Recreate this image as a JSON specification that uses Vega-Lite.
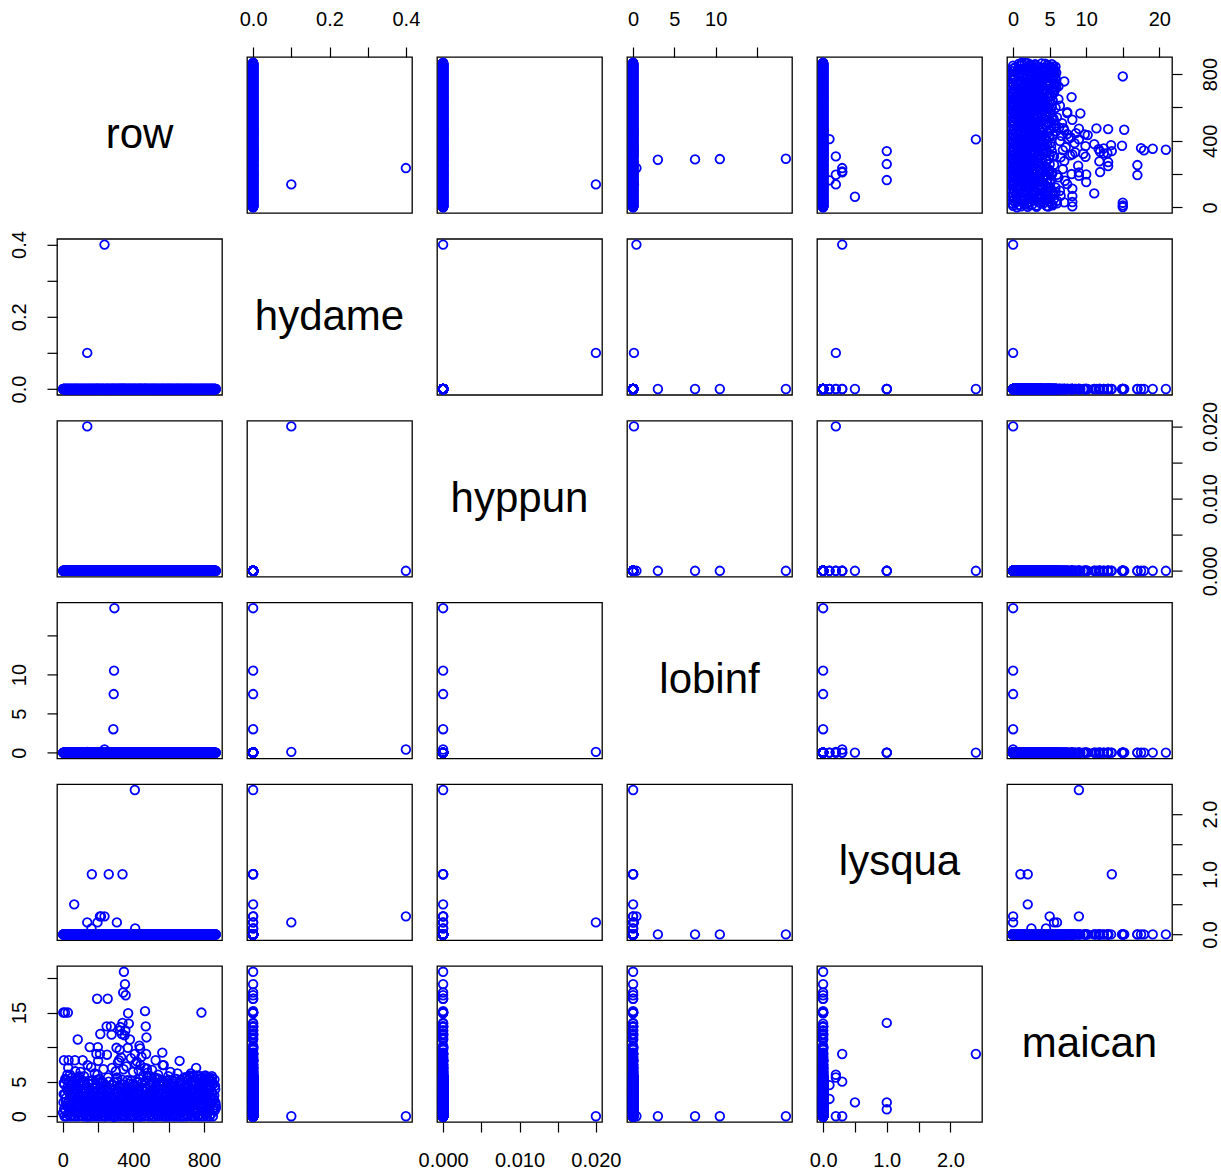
{
"$schema":"https://vega.github.io/schema/vega-lite/v6.json",
"background":"white",
"padding":{"left":8,"top":8,"right":0,"bottom":0},
"datasets":{"d":[
{"row":1,"hydame":0,"hyppun":0,"lobinf":0,"lysqua":0,"maican":0.5},{"row":3,"hydame":0,"hyppun":0,"lobinf":0,"lysqua":0,"maican":2.0},{"row":5,"hydame":0,"hyppun":0,"lobinf":0,"lysqua":0,"maican":4.8},{"row":7,"hydame":0,"hyppun":0,"lobinf":0,"lysqua":0,"maican":1.1},{"row":9,"hydame":0,"hyppun":0,"lobinf":0,"lysqua":0,"maican":0},{"row":11,"hydame":0,"hyppun":0,"lobinf":0,"lysqua":0,"maican":3.2},{"row":13,"hydame":0,"hyppun":0,"lobinf":0,"lysqua":0,"maican":5.4},{"row":15,"hydame":0,"hyppun":0,"lobinf":0,"lysqua":0,"maican":0.8},{"row":17,"hydame":0,"hyppun":0,"lobinf":0,"lysqua":0,"maican":2.6},{"row":19,"hydame":0,"hyppun":0,"lobinf":0,"lysqua":0,"maican":1.5},
{"row":21,"hydame":0,"hyppun":0,"lobinf":0,"lysqua":0,"maican":0},{"row":23,"hydame":0,"hyppun":0,"lobinf":0,"lysqua":0,"maican":4.1},{"row":25,"hydame":0,"hyppun":0,"lobinf":0,"lysqua":0,"maican":6.0},{"row":27,"hydame":0,"hyppun":0,"lobinf":0,"lysqua":0,"maican":1.9},{"row":29,"hydame":0,"hyppun":0,"lobinf":0,"lysqua":0,"maican":0.3},{"row":31,"hydame":0,"hyppun":0,"lobinf":0,"lysqua":0,"maican":3.6},{"row":33,"hydame":0,"hyppun":0,"lobinf":0,"lysqua":0,"maican":2.2},{"row":35,"hydame":0,"hyppun":0,"lobinf":0,"lysqua":0,"maican":5.0},{"row":37,"hydame":0,"hyppun":0,"lobinf":0,"lysqua":0,"maican":0.6},{"row":39,"hydame":0,"hyppun":0,"lobinf":0,"lysqua":0,"maican":1.3},
{"row":41,"hydame":0,"hyppun":0,"lobinf":0,"lysqua":0,"maican":2.9},{"row":43,"hydame":0,"hyppun":0,"lobinf":0,"lysqua":0,"maican":0},{"row":45,"hydame":0,"hyppun":0,"lobinf":0,"lysqua":0,"maican":4.5},{"row":47,"hydame":0,"hyppun":0,"lobinf":0,"lysqua":0,"maican":1.0},{"row":49,"hydame":0,"hyppun":0,"lobinf":0,"lysqua":0,"maican":3.0},{"row":51,"hydame":0,"hyppun":0,"lobinf":0,"lysqua":0,"maican":5.6},{"row":53,"hydame":0,"hyppun":0,"lobinf":0,"lysqua":0,"maican":0.2},{"row":55,"hydame":0,"hyppun":0,"lobinf":0,"lysqua":0,"maican":2.4},{"row":57,"hydame":0,"hyppun":0,"lobinf":0,"lysqua":0,"maican":1.7},{"row":59,"hydame":0,"hyppun":0,"lobinf":0,"lysqua":0,"maican":4.0},
{"row":61,"hydame":0,"hyppun":0,"lobinf":0,"lysqua":0,"maican":0.9},{"row":63,"hydame":0,"hyppun":0,"lobinf":0,"lysqua":0,"maican":3.4},{"row":65,"hydame":0,"hyppun":0,"lobinf":0,"lysqua":0,"maican":0},{"row":67,"hydame":0,"hyppun":0,"lobinf":0,"lysqua":0,"maican":2.1},{"row":69,"hydame":0,"hyppun":0,"lobinf":0,"lysqua":0,"maican":5.2},{"row":71,"hydame":0,"hyppun":0,"lobinf":0,"lysqua":0,"maican":1.4},{"row":73,"hydame":0,"hyppun":0,"lobinf":0,"lysqua":0,"maican":0.4},{"row":75,"hydame":0,"hyppun":0,"lobinf":0,"lysqua":0,"maican":3.8},{"row":77,"hydame":0,"hyppun":0,"lobinf":0,"lysqua":0,"maican":2.7},{"row":79,"hydame":0,"hyppun":0,"lobinf":0,"lysqua":0,"maican":0.7},
{"row":81,"hydame":0,"hyppun":0,"lobinf":0,"lysqua":0,"maican":4.3},{"row":83,"hydame":0,"hyppun":0,"lobinf":0,"lysqua":0,"maican":1.8},{"row":85,"hydame":0,"hyppun":0,"lobinf":0,"lysqua":0,"maican":0},{"row":87,"hydame":0,"hyppun":0,"lobinf":0,"lysqua":0,"maican":2.5},{"row":89,"hydame":0,"hyppun":0,"lobinf":0,"lysqua":0,"maican":3.1},{"row":91,"hydame":0,"hyppun":0,"lobinf":0,"lysqua":0,"maican":0.5},{"row":93,"hydame":0,"hyppun":0,"lobinf":0,"lysqua":0,"maican":5.8},{"row":95,"hydame":0,"hyppun":0,"lobinf":0,"lysqua":0,"maican":1.2},{"row":97,"hydame":0,"hyppun":0,"lobinf":0,"lysqua":0,"maican":2.0},{"row":99,"hydame":0,"hyppun":0,"lobinf":0,"lysqua":0,"maican":4.6},
{"row":101,"hydame":0,"hyppun":0,"lobinf":0,"lysqua":0,"maican":0.1},{"row":103,"hydame":0,"hyppun":0,"lobinf":0,"lysqua":0,"maican":3.5},{"row":105,"hydame":0,"hyppun":0,"lobinf":0,"lysqua":0,"maican":1.6},{"row":107,"hydame":0,"hyppun":0,"lobinf":0,"lysqua":0,"maican":0.8},{"row":109,"hydame":0,"hyppun":0,"lobinf":0,"lysqua":0,"maican":2.8},{"row":111,"hydame":0,"hyppun":0,"lobinf":0,"lysqua":0,"maican":4.9},{"row":113,"hydame":0,"hyppun":0,"lobinf":0,"lysqua":0,"maican":0},{"row":115,"hydame":0,"hyppun":0,"lobinf":0,"lysqua":0,"maican":1.1},{"row":117,"hydame":0,"hyppun":0,"lobinf":0,"lysqua":0,"maican":3.3},{"row":119,"hydame":0,"hyppun":0,"lobinf":0,"lysqua":0,"maican":2.3},
{"row":121,"hydame":0,"hyppun":0,"lobinf":0,"lysqua":0,"maican":0.4},{"row":123,"hydame":0,"hyppun":0,"lobinf":0,"lysqua":0,"maican":2.2},{"row":125,"hydame":0,"hyppun":0,"lobinf":0,"lysqua":0,"maican":1.0},{"row":127,"hydame":0,"hyppun":0,"lobinf":0,"lysqua":0,"maican":3.7},{"row":129,"hydame":0,"hyppun":0,"lobinf":0,"lysqua":0,"maican":0},{"row":131,"hydame":0,"hyppun":0,"lobinf":0,"lysqua":0,"maican":1.8},{"row":133,"hydame":0,"hyppun":0,"lobinf":0,"lysqua":0,"maican":4.4},{"row":135,"hydame":0,"hyppun":0,"lobinf":0,"lysqua":0,"maican":0.7},{"row":137,"hydame":0,"hyppun":0,"lobinf":0,"lysqua":0,"maican":2.6},{"row":139,"hydame":0,"hyppun":0,"lobinf":0,"lysqua":0,"maican":1.3},
{"row":141,"hydame":0,"hyppun":0,"lobinf":0,"lysqua":0,"maican":0.2},{"row":143,"hydame":0,"hyppun":0,"lobinf":0,"lysqua":0,"maican":3.0},{"row":145,"hydame":0,"hyppun":0,"lobinf":0,"lysqua":0,"maican":5.1},{"row":147,"hydame":0,"hyppun":0,"lobinf":0,"lysqua":0,"maican":1.5},{"row":149,"hydame":0,"hyppun":0,"lobinf":0,"lysqua":0,"maican":0},{"row":151,"hydame":0,"hyppun":0,"lobinf":0,"lysqua":0,"maican":2.4},{"row":153,"hydame":0,"hyppun":0,"lobinf":0,"lysqua":0,"maican":0.9},{"row":155,"hydame":0,"hyppun":0,"lobinf":0,"lysqua":0,"maican":3.9},{"row":157,"hydame":0,"hyppun":0,"lobinf":0,"lysqua":0,"maican":1.7},{"row":159,"hydame":0,"hyppun":0,"lobinf":0,"lysqua":0,"maican":0.5},
{"row":161,"hydame":0,"hyppun":0,"lobinf":0,"lysqua":0,"maican":2.9},{"row":163,"hydame":0,"hyppun":0,"lobinf":0,"lysqua":0,"maican":0},{"row":165,"hydame":0,"hyppun":0,"lobinf":0,"lysqua":0,"maican":1.2},{"row":167,"hydame":0,"hyppun":0,"lobinf":0,"lysqua":0,"maican":4.7},{"row":169,"hydame":0,"hyppun":0,"lobinf":0,"lysqua":0,"maican":0.6},{"row":171,"hydame":0,"hyppun":0,"lobinf":0,"lysqua":0,"maican":2.0},{"row":173,"hydame":0,"hyppun":0,"lobinf":0,"lysqua":0,"maican":3.4},{"row":175,"hydame":0,"hyppun":0,"lobinf":0,"lysqua":0,"maican":1.1},{"row":177,"hydame":0,"hyppun":0,"lobinf":0,"lysqua":0,"maican":0.3},{"row":179,"hydame":0,"hyppun":0,"lobinf":0,"lysqua":0,"maican":2.7},
{"row":181,"hydame":0,"hyppun":0,"lobinf":0,"lysqua":0,"maican":1.6},{"row":183,"hydame":0,"hyppun":0,"lobinf":0,"lysqua":0,"maican":0},{"row":185,"hydame":0,"hyppun":0,"lobinf":0,"lysqua":0,"maican":3.6},{"row":187,"hydame":0,"hyppun":0,"lobinf":0,"lysqua":0,"maican":0.8},{"row":189,"hydame":0,"hyppun":0,"lobinf":0,"lysqua":0,"maican":4.1},{"row":191,"hydame":0,"hyppun":0,"lobinf":0,"lysqua":0,"maican":1.9},{"row":193,"hydame":0,"hyppun":0,"lobinf":0,"lysqua":0,"maican":0.2},{"row":195,"hydame":0,"hyppun":0,"lobinf":0,"lysqua":0,"maican":2.3},{"row":197,"hydame":0,"hyppun":0,"lobinf":0,"lysqua":0,"maican":5.3},{"row":199,"hydame":0,"hyppun":0,"lobinf":0,"lysqua":0,"maican":1.0},
{"row":201,"hydame":0,"hyppun":0,"lobinf":0,"lysqua":0,"maican":0},{"row":203,"hydame":0,"hyppun":0,"lobinf":0,"lysqua":0,"maican":3.1},{"row":205,"hydame":0,"hyppun":0,"lobinf":0,"lysqua":0,"maican":1.4},{"row":207,"hydame":0,"hyppun":0,"lobinf":0,"lysqua":0,"maican":0.5},{"row":209,"hydame":0,"hyppun":0,"lobinf":0,"lysqua":0,"maican":2.5},{"row":211,"hydame":0,"hyppun":0,"lobinf":0,"lysqua":0,"maican":4.0},{"row":213,"hydame":0,"hyppun":0,"lobinf":0,"lysqua":0,"maican":0.9},{"row":215,"hydame":0,"hyppun":0,"lobinf":0,"lysqua":0,"maican":1.8},{"row":217,"hydame":0,"hyppun":0,"lobinf":0,"lysqua":0,"maican":0},{"row":219,"hydame":0,"hyppun":0,"lobinf":0,"lysqua":0,"maican":3.3},
{"row":221,"hydame":0,"hyppun":0,"lobinf":0,"lysqua":0,"maican":2.1},{"row":223,"hydame":0,"hyppun":0,"lobinf":0,"lysqua":0,"maican":0.6},{"row":225,"hydame":0,"hyppun":0,"lobinf":0,"lysqua":0,"maican":4.8},{"row":227,"hydame":0,"hyppun":0,"lobinf":0,"lysqua":0,"maican":1.2},{"row":229,"hydame":0,"hyppun":0,"lobinf":0,"lysqua":0,"maican":2.8},{"row":231,"hydame":0,"hyppun":0,"lobinf":0,"lysqua":0,"maican":0.1},{"row":233,"hydame":0,"hyppun":0,"lobinf":0,"lysqua":0,"maican":1.6},{"row":235,"hydame":0,"hyppun":0,"lobinf":0,"lysqua":0,"maican":3.8},{"row":237,"hydame":0,"hyppun":0,"lobinf":0,"lysqua":0,"maican":0.4},{"row":239,"hydame":0,"hyppun":0,"lobinf":0,"lysqua":0,"maican":2.2},
{"row":241,"hydame":0,"hyppun":0,"lobinf":0,"lysqua":0,"maican":1.3},{"row":243,"hydame":0,"hyppun":0,"lobinf":0,"lysqua":0,"maican":0},{"row":245,"hydame":0,"hyppun":0,"lobinf":0,"lysqua":0,"maican":2.6},{"row":247,"hydame":0,"hyppun":0,"lobinf":0,"lysqua":0,"maican":4.3},{"row":249,"hydame":0,"hyppun":0,"lobinf":0,"lysqua":0,"maican":0.7},{"row":251,"hydame":0,"hyppun":0,"lobinf":0,"lysqua":0,"maican":1.9},{"row":253,"hydame":0,"hyppun":0,"lobinf":0,"lysqua":0,"maican":3.5},{"row":255,"hydame":0,"hyppun":0,"lobinf":0,"lysqua":0,"maican":0.3},{"row":257,"hydame":0,"hyppun":0,"lobinf":0,"lysqua":0,"maican":2.0},{"row":259,"hydame":0,"hyppun":0,"lobinf":0,"lysqua":0,"maican":5.0},
{"row":261,"hydame":0,"hyppun":0,"lobinf":0,"lysqua":0,"maican":1.1},{"row":263,"hydame":0,"hyppun":0,"lobinf":0,"lysqua":0,"maican":0},{"row":265,"hydame":0,"hyppun":0,"lobinf":0,"lysqua":0,"maican":2.9},{"row":267,"hydame":0,"hyppun":0,"lobinf":0,"lysqua":0,"maican":1.5},{"row":269,"hydame":0,"hyppun":0,"lobinf":0,"lysqua":0,"maican":0.8},{"row":271,"hydame":0,"hyppun":0,"lobinf":0,"lysqua":0,"maican":3.9},{"row":273,"hydame":0,"hyppun":0,"lobinf":0,"lysqua":0,"maican":2.4},{"row":275,"hydame":0,"hyppun":0,"lobinf":0,"lysqua":0,"maican":0.2},{"row":277,"hydame":0,"hyppun":0,"lobinf":0,"lysqua":0,"maican":1.7},{"row":279,"hydame":0,"hyppun":0,"lobinf":0,"lysqua":0,"maican":4.5},
{"row":281,"hydame":0,"hyppun":0,"lobinf":0,"lysqua":0,"maican":0.6},{"row":283,"hydame":0,"hyppun":0,"lobinf":0,"lysqua":0,"maican":2.3},{"row":285,"hydame":0,"hyppun":0,"lobinf":0,"lysqua":0,"maican":0},{"row":287,"hydame":0,"hyppun":0,"lobinf":0,"lysqua":0,"maican":1.4},{"row":289,"hydame":0,"hyppun":0,"lobinf":0,"lysqua":0,"maican":3.2},{"row":291,"hydame":0,"hyppun":0,"lobinf":0,"lysqua":0,"maican":4.9},{"row":293,"hydame":0,"hyppun":0,"lobinf":0,"lysqua":0,"maican":0.9},{"row":295,"hydame":0,"hyppun":0,"lobinf":0,"lysqua":0,"maican":2.7},{"row":297,"hydame":0,"hyppun":0,"lobinf":0,"lysqua":0,"maican":1.0},{"row":299,"hydame":0,"hyppun":0,"lobinf":0,"lysqua":0,"maican":0},
{"row":301,"hydame":0,"hyppun":0,"lobinf":0,"lysqua":0,"maican":3.6},{"row":303,"hydame":0,"hyppun":0,"lobinf":0,"lysqua":0,"maican":1.8},{"row":305,"hydame":0,"hyppun":0,"lobinf":0,"lysqua":0,"maican":0.4},{"row":307,"hydame":0,"hyppun":0,"lobinf":0,"lysqua":0,"maican":2.1},{"row":309,"hydame":0,"hyppun":0,"lobinf":0,"lysqua":0,"maican":5.5},{"row":311,"hydame":0,"hyppun":0,"lobinf":0,"lysqua":0,"maican":1.2},{"row":313,"hydame":0,"hyppun":0,"lobinf":0,"lysqua":0,"maican":0},{"row":315,"hydame":0,"hyppun":0,"lobinf":0,"lysqua":0,"maican":2.9},{"row":317,"hydame":0,"hyppun":0,"lobinf":0,"lysqua":0,"maican":3.4},{"row":319,"hydame":0,"hyppun":0,"lobinf":0,"lysqua":0,"maican":0.7},
{"row":321,"hydame":0,"hyppun":0,"lobinf":0,"lysqua":0,"maican":1.9},{"row":323,"hydame":0,"hyppun":0,"lobinf":0,"lysqua":0,"maican":0.3},{"row":325,"hydame":0,"hyppun":0,"lobinf":0,"lysqua":0,"maican":4.2},{"row":327,"hydame":0,"hyppun":0,"lobinf":0,"lysqua":0,"maican":2.5},{"row":329,"hydame":0,"hyppun":0,"lobinf":0,"lysqua":0,"maican":0},{"row":331,"hydame":0,"hyppun":0,"lobinf":0,"lysqua":0,"maican":1.1},{"row":333,"hydame":0,"hyppun":0,"lobinf":0,"lysqua":0,"maican":3.0},{"row":335,"hydame":0,"hyppun":0,"lobinf":0,"lysqua":0,"maican":0.8},{"row":337,"hydame":0,"hyppun":0,"lobinf":0,"lysqua":0,"maican":2.2},{"row":339,"hydame":0,"hyppun":0,"lobinf":0,"lysqua":0,"maican":1.5},
{"row":341,"hydame":0,"hyppun":0,"lobinf":0,"lysqua":0,"maican":4.6},{"row":343,"hydame":0,"hyppun":0,"lobinf":0,"lysqua":0,"maican":0.1},{"row":345,"hydame":0,"hyppun":0,"lobinf":0,"lysqua":0,"maican":2.8},{"row":347,"hydame":0,"hyppun":0,"lobinf":0,"lysqua":0,"maican":1.3},{"row":349,"hydame":0,"hyppun":0,"lobinf":0,"lysqua":0,"maican":0},{"row":351,"hydame":0,"hyppun":0,"lobinf":0,"lysqua":0,"maican":3.7},{"row":353,"hydame":0,"hyppun":0,"lobinf":0,"lysqua":0,"maican":2.0},{"row":355,"hydame":0,"hyppun":0,"lobinf":0,"lysqua":0,"maican":0.6},{"row":357,"hydame":0,"hyppun":0,"lobinf":0,"lysqua":0,"maican":1.6},{"row":359,"hydame":0,"hyppun":0,"lobinf":0,"lysqua":0,"maican":3.1},
{"row":361,"hydame":0,"hyppun":0,"lobinf":0,"lysqua":0,"maican":0},{"row":363,"hydame":0,"hyppun":0,"lobinf":0,"lysqua":0,"maican":2.4},{"row":365,"hydame":0,"hyppun":0,"lobinf":0,"lysqua":0,"maican":1.0},{"row":367,"hydame":0,"hyppun":0,"lobinf":0,"lysqua":0,"maican":5.2},{"row":369,"hydame":0,"hyppun":0,"lobinf":0,"lysqua":0,"maican":0.5},{"row":371,"hydame":0,"hyppun":0,"lobinf":0,"lysqua":0,"maican":3.3},{"row":373,"hydame":0,"hyppun":0,"lobinf":0,"lysqua":0,"maican":1.7},{"row":375,"hydame":0,"hyppun":0,"lobinf":0,"lysqua":0,"maican":0.2},{"row":377,"hydame":0,"hyppun":0,"lobinf":0,"lysqua":0,"maican":2.6},{"row":379,"hydame":0,"hyppun":0,"lobinf":0,"lysqua":0,"maican":4.0},
{"row":381,"hydame":0,"hyppun":0,"lobinf":0,"lysqua":0,"maican":1.2},{"row":383,"hydame":0,"hyppun":0,"lobinf":0,"lysqua":0,"maican":0},{"row":385,"hydame":0,"hyppun":0,"lobinf":0,"lysqua":0,"maican":2.0},{"row":387,"hydame":0,"hyppun":0,"lobinf":0,"lysqua":0,"maican":3.8},{"row":389,"hydame":0,"hyppun":0,"lobinf":0,"lysqua":0,"maican":0.9},{"row":391,"hydame":0,"hyppun":0,"lobinf":0,"lysqua":0,"maican":1.4},{"row":393,"hydame":0,"hyppun":0,"lobinf":0,"lysqua":0,"maican":0},{"row":395,"hydame":0,"hyppun":0,"lobinf":0,"lysqua":0,"maican":2.9},{"row":397,"hydame":0,"hyppun":0,"lobinf":0,"lysqua":0,"maican":4.7},{"row":399,"hydame":0,"hyppun":0,"lobinf":0,"lysqua":0,"maican":0.7},
{"row":401,"hydame":0,"hyppun":0,"lobinf":0,"lysqua":0,"maican":1.5},{"row":403,"hydame":0,"hyppun":0,"lobinf":0,"lysqua":0,"maican":3.5},{"row":405,"hydame":0,"hyppun":0,"lobinf":0,"lysqua":0,"maican":0},{"row":407,"hydame":0,"hyppun":0,"lobinf":0,"lysqua":0,"maican":2.1},{"row":409,"hydame":0,"hyppun":0,"lobinf":0,"lysqua":0,"maican":0.8},{"row":411,"hydame":0,"hyppun":0,"lobinf":0,"lysqua":0,"maican":4.4},{"row":413,"hydame":0,"hyppun":0,"lobinf":0,"lysqua":0,"maican":1.1},{"row":415,"hydame":0,"hyppun":0,"lobinf":0,"lysqua":0,"maican":2.7},{"row":417,"hydame":0,"hyppun":0,"lobinf":0,"lysqua":0,"maican":0.3},{"row":419,"hydame":0,"hyppun":0,"lobinf":0,"lysqua":0,"maican":1.8},
{"row":421,"hydame":0,"hyppun":0,"lobinf":0,"lysqua":0,"maican":3.1},{"row":423,"hydame":0,"hyppun":0,"lobinf":0,"lysqua":0,"maican":0},{"row":425,"hydame":0,"hyppun":0,"lobinf":0,"lysqua":0,"maican":5.0},{"row":427,"hydame":0,"hyppun":0,"lobinf":0,"lysqua":0,"maican":1.3},{"row":429,"hydame":0,"hyppun":0,"lobinf":0,"lysqua":0,"maican":2.3},{"row":431,"hydame":0,"hyppun":0,"lobinf":0,"lysqua":0,"maican":0.6},{"row":433,"hydame":0,"hyppun":0,"lobinf":0,"lysqua":0,"maican":3.9},{"row":435,"hydame":0,"hyppun":0,"lobinf":0,"lysqua":0,"maican":1.0},{"row":437,"hydame":0,"hyppun":0,"lobinf":0,"lysqua":0,"maican":0},{"row":439,"hydame":0,"hyppun":0,"lobinf":0,"lysqua":0,"maican":2.5},
{"row":441,"hydame":0,"hyppun":0,"lobinf":0,"lysqua":0,"maican":0.9},{"row":443,"hydame":0,"hyppun":0,"lobinf":0,"lysqua":0,"maican":0},{"row":445,"hydame":0,"hyppun":0,"lobinf":0,"lysqua":0,"maican":3.2},{"row":447,"hydame":0,"hyppun":0,"lobinf":0,"lysqua":0,"maican":1.6},{"row":449,"hydame":0,"hyppun":0,"lobinf":0,"lysqua":0,"maican":4.8},{"row":451,"hydame":0,"hyppun":0,"lobinf":0,"lysqua":0,"maican":2.0},{"row":453,"hydame":0,"hyppun":0,"lobinf":0,"lysqua":0,"maican":0.4},{"row":455,"hydame":0,"hyppun":0,"lobinf":0,"lysqua":0,"maican":1.2},{"row":457,"hydame":0,"hyppun":0,"lobinf":0,"lysqua":0,"maican":2.8},{"row":459,"hydame":0,"hyppun":0,"lobinf":0,"lysqua":0,"maican":0},
{"row":461,"hydame":0,"hyppun":0,"lobinf":0,"lysqua":0,"maican":3.7},{"row":463,"hydame":0,"hyppun":0,"lobinf":0,"lysqua":0,"maican":1.9},{"row":465,"hydame":0,"hyppun":0,"lobinf":0,"lysqua":0,"maican":0.7},{"row":467,"hydame":0,"hyppun":0,"lobinf":0,"lysqua":0,"maican":4.1},{"row":469,"hydame":0,"hyppun":0,"lobinf":0,"lysqua":0,"maican":2.4},{"row":471,"hydame":0,"hyppun":0,"lobinf":0,"lysqua":0,"maican":0.1},{"row":473,"hydame":0,"hyppun":0,"lobinf":0,"lysqua":0,"maican":1.4},{"row":475,"hydame":0,"hyppun":0,"lobinf":0,"lysqua":0,"maican":3.0},{"row":477,"hydame":0,"hyppun":0,"lobinf":0,"lysqua":0,"maican":5.6},{"row":479,"hydame":0,"hyppun":0,"lobinf":0,"lysqua":0,"maican":1.1},
{"row":481,"hydame":0,"hyppun":0,"lobinf":0,"lysqua":0,"maican":2.2},{"row":483,"hydame":0,"hyppun":0,"lobinf":0,"lysqua":0,"maican":0.5},{"row":485,"hydame":0,"hyppun":0,"lobinf":0,"lysqua":0,"maican":1.7},{"row":487,"hydame":0,"hyppun":0,"lobinf":0,"lysqua":0,"maican":0},{"row":489,"hydame":0,"hyppun":0,"lobinf":0,"lysqua":0,"maican":3.4},{"row":491,"hydame":0,"hyppun":0,"lobinf":0,"lysqua":0,"maican":2.6},{"row":493,"hydame":0,"hyppun":0,"lobinf":0,"lysqua":0,"maican":1.0},{"row":495,"hydame":0,"hyppun":0,"lobinf":0,"lysqua":0,"maican":4.5},{"row":497,"hydame":0,"hyppun":0,"lobinf":0,"lysqua":0,"maican":0.2},{"row":499,"hydame":0,"hyppun":0,"lobinf":0,"lysqua":0,"maican":1.9},
{"row":501,"hydame":0,"hyppun":0,"lobinf":0,"lysqua":0,"maican":3.0},{"row":503,"hydame":0,"hyppun":0,"lobinf":0,"lysqua":0,"maican":0.8},{"row":505,"hydame":0,"hyppun":0,"lobinf":0,"lysqua":0,"maican":2.3},{"row":507,"hydame":0,"hyppun":0,"lobinf":0,"lysqua":0,"maican":0},{"row":509,"hydame":0,"hyppun":0,"lobinf":0,"lysqua":0,"maican":4.9},{"row":511,"hydame":0,"hyppun":0,"lobinf":0,"lysqua":0,"maican":1.5},{"row":513,"hydame":0,"hyppun":0,"lobinf":0,"lysqua":0,"maican":0.6},{"row":515,"hydame":0,"hyppun":0,"lobinf":0,"lysqua":0,"maican":2.9},{"row":517,"hydame":0,"hyppun":0,"lobinf":0,"lysqua":0,"maican":1.2},{"row":519,"hydame":0,"hyppun":0,"lobinf":0,"lysqua":0,"maican":3.6},
{"row":521,"hydame":0,"hyppun":0,"lobinf":0,"lysqua":0,"maican":0},{"row":523,"hydame":0,"hyppun":0,"lobinf":0,"lysqua":0,"maican":1.4},{"row":525,"hydame":0,"hyppun":0,"lobinf":0,"lysqua":0,"maican":2.5},{"row":527,"hydame":0,"hyppun":0,"lobinf":0,"lysqua":0,"maican":4.2},{"row":529,"hydame":0,"hyppun":0,"lobinf":0,"lysqua":0,"maican":0.9},{"row":531,"hydame":0,"hyppun":0,"lobinf":0,"lysqua":0,"maican":3.1},{"row":533,"hydame":0,"hyppun":0,"lobinf":0,"lysqua":0,"maican":0.3},{"row":535,"hydame":0,"hyppun":0,"lobinf":0,"lysqua":0,"maican":1.8},{"row":537,"hydame":0,"hyppun":0,"lobinf":0,"lysqua":0,"maican":5.3},{"row":539,"hydame":0,"hyppun":0,"lobinf":0,"lysqua":0,"maican":2.0},
{"row":541,"hydame":0,"hyppun":0,"lobinf":0,"lysqua":0,"maican":0},{"row":543,"hydame":0,"hyppun":0,"lobinf":0,"lysqua":0,"maican":1.1},{"row":545,"hydame":0,"hyppun":0,"lobinf":0,"lysqua":0,"maican":3.8},{"row":547,"hydame":0,"hyppun":0,"lobinf":0,"lysqua":0,"maican":0.6},{"row":549,"hydame":0,"hyppun":0,"lobinf":0,"lysqua":0,"maican":2.7},{"row":551,"hydame":0,"hyppun":0,"lobinf":0,"lysqua":0,"maican":1.6},{"row":553,"hydame":0,"hyppun":0,"lobinf":0,"lysqua":0,"maican":4.4},{"row":555,"hydame":0,"hyppun":0,"lobinf":0,"lysqua":0,"maican":0.2},{"row":557,"hydame":0,"hyppun":0,"lobinf":0,"lysqua":0,"maican":2.1},{"row":559,"hydame":0,"hyppun":0,"lobinf":0,"lysqua":0,"maican":1.0},
{"row":561,"hydame":0,"hyppun":0,"lobinf":0,"lysqua":0,"maican":3.3},{"row":563,"hydame":0,"hyppun":0,"lobinf":0,"lysqua":0,"maican":0.7},{"row":565,"hydame":0,"hyppun":0,"lobinf":0,"lysqua":0,"maican":0},{"row":567,"hydame":0,"hyppun":0,"lobinf":0,"lysqua":0,"maican":2.4},{"row":569,"hydame":0,"hyppun":0,"lobinf":0,"lysqua":0,"maican":1.3},{"row":571,"hydame":0,"hyppun":0,"lobinf":0,"lysqua":0,"maican":4.6},{"row":573,"hydame":0,"hyppun":0,"lobinf":0,"lysqua":0,"maican":1.9},{"row":575,"hydame":0,"hyppun":0,"lobinf":0,"lysqua":0,"maican":0.4},{"row":577,"hydame":0,"hyppun":0,"lobinf":0,"lysqua":0,"maican":2.8},{"row":579,"hydame":0,"hyppun":0,"lobinf":0,"lysqua":0,"maican":0},
{"row":581,"hydame":0,"hyppun":0,"lobinf":0,"lysqua":0,"maican":3.5},{"row":583,"hydame":0,"hyppun":0,"lobinf":0,"lysqua":0,"maican":1.5},{"row":585,"hydame":0,"hyppun":0,"lobinf":0,"lysqua":0,"maican":0.9},{"row":587,"hydame":0,"hyppun":0,"lobinf":0,"lysqua":0,"maican":5.1},{"row":589,"hydame":0,"hyppun":0,"lobinf":0,"lysqua":0,"maican":2.2},{"row":591,"hydame":0,"hyppun":0,"lobinf":0,"lysqua":0,"maican":0},{"row":593,"hydame":0,"hyppun":0,"lobinf":0,"lysqua":0,"maican":1.7},{"row":595,"hydame":0,"hyppun":0,"lobinf":0,"lysqua":0,"maican":3.9},{"row":597,"hydame":0,"hyppun":0,"lobinf":0,"lysqua":0,"maican":0.5},{"row":599,"hydame":0,"hyppun":0,"lobinf":0,"lysqua":0,"maican":2.6},
{"row":601,"hydame":0,"hyppun":0,"lobinf":0,"lysqua":0,"maican":1.2},{"row":603,"hydame":0,"hyppun":0,"lobinf":0,"lysqua":0,"maican":0},{"row":605,"hydame":0,"hyppun":0,"lobinf":0,"lysqua":0,"maican":2.9},{"row":607,"hydame":0,"hyppun":0,"lobinf":0,"lysqua":0,"maican":0.8},{"row":609,"hydame":0,"hyppun":0,"lobinf":0,"lysqua":0,"maican":4.0},{"row":611,"hydame":0,"hyppun":0,"lobinf":0,"lysqua":0,"maican":1.6},{"row":613,"hydame":0,"hyppun":0,"lobinf":0,"lysqua":0,"maican":3.2},{"row":615,"hydame":0,"hyppun":0,"lobinf":0,"lysqua":0,"maican":0.1},{"row":617,"hydame":0,"hyppun":0,"lobinf":0,"lysqua":0,"maican":2.3},{"row":619,"hydame":0,"hyppun":0,"lobinf":0,"lysqua":0,"maican":1.0},
{"row":621,"hydame":0,"hyppun":0,"lobinf":0,"lysqua":0,"maican":0},{"row":623,"hydame":0,"hyppun":0,"lobinf":0,"lysqua":0,"maican":4.7},{"row":625,"hydame":0,"hyppun":0,"lobinf":0,"lysqua":0,"maican":2.0},{"row":627,"hydame":0,"hyppun":0,"lobinf":0,"lysqua":0,"maican":0.6},{"row":629,"hydame":0,"hyppun":0,"lobinf":0,"lysqua":0,"maican":3.6},{"row":631,"hydame":0,"hyppun":0,"lobinf":0,"lysqua":0,"maican":1.4},{"row":633,"hydame":0,"hyppun":0,"lobinf":0,"lysqua":0,"maican":0},{"row":635,"hydame":0,"hyppun":0,"lobinf":0,"lysqua":0,"maican":2.5},{"row":637,"hydame":0,"hyppun":0,"lobinf":0,"lysqua":0,"maican":5.4},{"row":639,"hydame":0,"hyppun":0,"lobinf":0,"lysqua":0,"maican":0.9},
{"row":641,"hydame":0,"hyppun":0,"lobinf":0,"lysqua":0,"maican":2.7},{"row":643,"hydame":0,"hyppun":0,"lobinf":0,"lysqua":0,"maican":1.1},{"row":645,"hydame":0,"hyppun":0,"lobinf":0,"lysqua":0,"maican":0.3},{"row":647,"hydame":0,"hyppun":0,"lobinf":0,"lysqua":0,"maican":3.4},{"row":649,"hydame":0,"hyppun":0,"lobinf":0,"lysqua":0,"maican":0},{"row":651,"hydame":0,"hyppun":0,"lobinf":0,"lysqua":0,"maican":1.8},{"row":653,"hydame":0,"hyppun":0,"lobinf":0,"lysqua":0,"maican":4.3},{"row":655,"hydame":0,"hyppun":0,"lobinf":0,"lysqua":0,"maican":2.1},{"row":657,"hydame":0,"hyppun":0,"lobinf":0,"lysqua":0,"maican":0.7},{"row":659,"hydame":0,"hyppun":0,"lobinf":0,"lysqua":0,"maican":1.5},
{"row":661,"hydame":0,"hyppun":0,"lobinf":0,"lysqua":0,"maican":3.0},{"row":663,"hydame":0,"hyppun":0,"lobinf":0,"lysqua":0,"maican":0},{"row":665,"hydame":0,"hyppun":0,"lobinf":0,"lysqua":0,"maican":2.4},{"row":667,"hydame":0,"hyppun":0,"lobinf":0,"lysqua":0,"maican":4.9},{"row":669,"hydame":0,"hyppun":0,"lobinf":0,"lysqua":0,"maican":1.3},{"row":671,"hydame":0,"hyppun":0,"lobinf":0,"lysqua":0,"maican":0.5},{"row":673,"hydame":0,"hyppun":0,"lobinf":0,"lysqua":0,"maican":3.7},{"row":675,"hydame":0,"hyppun":0,"lobinf":0,"lysqua":0,"maican":1.9},{"row":677,"hydame":0,"hyppun":0,"lobinf":0,"lysqua":0,"maican":0},{"row":679,"hydame":0,"hyppun":0,"lobinf":0,"lysqua":0,"maican":2.2},
{"row":681,"hydame":0,"hyppun":0,"lobinf":0,"lysqua":0,"maican":0.8},{"row":683,"hydame":0,"hyppun":0,"lobinf":0,"lysqua":0,"maican":3.1},{"row":685,"hydame":0,"hyppun":0,"lobinf":0,"lysqua":0,"maican":1.6},{"row":687,"hydame":0,"hyppun":0,"lobinf":0,"lysqua":0,"maican":0},{"row":689,"hydame":0,"hyppun":0,"lobinf":0,"lysqua":0,"maican":4.1},{"row":691,"hydame":0,"hyppun":0,"lobinf":0,"lysqua":0,"maican":2.6},{"row":693,"hydame":0,"hyppun":0,"lobinf":0,"lysqua":0,"maican":1.0},{"row":695,"hydame":0,"hyppun":0,"lobinf":0,"lysqua":0,"maican":0.4},{"row":697,"hydame":0,"hyppun":0,"lobinf":0,"lysqua":0,"maican":3.5},{"row":699,"hydame":0,"hyppun":0,"lobinf":0,"lysqua":0,"maican":1.7},
{"row":701,"hydame":0,"hyppun":0,"lobinf":0,"lysqua":0,"maican":1.4},{"row":703,"hydame":0,"hyppun":0,"lobinf":0,"lysqua":0,"maican":3.6},{"row":705,"hydame":0,"hyppun":0,"lobinf":0,"lysqua":0,"maican":0},{"row":707,"hydame":0,"hyppun":0,"lobinf":0,"lysqua":0,"maican":2.5},{"row":709,"hydame":0,"hyppun":0,"lobinf":0,"lysqua":0,"maican":5.2},{"row":711,"hydame":0,"hyppun":0,"lobinf":0,"lysqua":0,"maican":1.0},{"row":713,"hydame":0,"hyppun":0,"lobinf":0,"lysqua":0,"maican":4.3},{"row":715,"hydame":0,"hyppun":0,"lobinf":0,"lysqua":0,"maican":0.6},{"row":717,"hydame":0,"hyppun":0,"lobinf":0,"lysqua":0,"maican":2.9},{"row":719,"hydame":0,"hyppun":0,"lobinf":0,"lysqua":0,"maican":1.8},
{"row":721,"hydame":0,"hyppun":0,"lobinf":0,"lysqua":0,"maican":5.7},{"row":723,"hydame":0,"hyppun":0,"lobinf":0,"lysqua":0,"maican":0.3},{"row":725,"hydame":0,"hyppun":0,"lobinf":0,"lysqua":0,"maican":3.3},{"row":727,"hydame":0,"hyppun":0,"lobinf":0,"lysqua":0,"maican":2.1},{"row":729,"hydame":0,"hyppun":0,"lobinf":0,"lysqua":0,"maican":0},{"row":731,"hydame":0,"hyppun":0,"lobinf":0,"lysqua":0,"maican":4.6},{"row":733,"hydame":0,"hyppun":0,"lobinf":0,"lysqua":0,"maican":1.5},{"row":735,"hydame":0,"hyppun":0,"lobinf":0,"lysqua":0,"maican":3.9},{"row":737,"hydame":0,"hyppun":0,"lobinf":0,"lysqua":0,"maican":0.8},{"row":739,"hydame":0,"hyppun":0,"lobinf":0,"lysqua":0,"maican":2.7},
{"row":741,"hydame":0,"hyppun":0,"lobinf":0,"lysqua":0,"maican":5.0},{"row":743,"hydame":0,"hyppun":0,"lobinf":0,"lysqua":0,"maican":1.2},{"row":745,"hydame":0,"hyppun":0,"lobinf":0,"lysqua":0,"maican":0},{"row":747,"hydame":0,"hyppun":0,"lobinf":0,"lysqua":0,"maican":3.4},{"row":749,"hydame":0,"hyppun":0,"lobinf":0,"lysqua":0,"maican":2.2},{"row":751,"hydame":0,"hyppun":0,"lobinf":0,"lysqua":0,"maican":4.8},{"row":753,"hydame":0,"hyppun":0,"lobinf":0,"lysqua":0,"maican":0.5},{"row":755,"hydame":0,"hyppun":0,"lobinf":0,"lysqua":0,"maican":1.9},{"row":757,"hydame":0,"hyppun":0,"lobinf":0,"lysqua":0,"maican":3.0},{"row":759,"hydame":0,"hyppun":0,"lobinf":0,"lysqua":0,"maican":5.9},
{"row":761,"hydame":0,"hyppun":0,"lobinf":0,"lysqua":0,"maican":0.9},{"row":763,"hydame":0,"hyppun":0,"lobinf":0,"lysqua":0,"maican":2.6},{"row":765,"hydame":0,"hyppun":0,"lobinf":0,"lysqua":0,"maican":0},{"row":767,"hydame":0,"hyppun":0,"lobinf":0,"lysqua":0,"maican":4.1},{"row":769,"hydame":0,"hyppun":0,"lobinf":0,"lysqua":0,"maican":1.6},{"row":771,"hydame":0,"hyppun":0,"lobinf":0,"lysqua":0,"maican":3.7},{"row":773,"hydame":0,"hyppun":0,"lobinf":0,"lysqua":0,"maican":0.2},{"row":775,"hydame":0,"hyppun":0,"lobinf":0,"lysqua":0,"maican":2.3},{"row":777,"hydame":0,"hyppun":0,"lobinf":0,"lysqua":0,"maican":5.4},{"row":779,"hydame":0,"hyppun":0,"lobinf":0,"lysqua":0,"maican":1.1},
{"row":781,"hydame":0,"hyppun":0,"lobinf":0,"lysqua":0,"maican":3.1},{"row":783,"hydame":0,"hyppun":0,"lobinf":0,"lysqua":0,"maican":0},{"row":785,"hydame":0,"hyppun":0,"lobinf":0,"lysqua":0,"maican":4.5},{"row":787,"hydame":0,"hyppun":0,"lobinf":0,"lysqua":0,"maican":2.0},{"row":789,"hydame":0,"hyppun":0,"lobinf":0,"lysqua":0,"maican":1.3},{"row":791,"hydame":0,"hyppun":0,"lobinf":0,"lysqua":0,"maican":5.6},{"row":793,"hydame":0,"hyppun":0,"lobinf":0,"lysqua":0,"maican":0.7},{"row":795,"hydame":0,"hyppun":0,"lobinf":0,"lysqua":0,"maican":2.8},{"row":797,"hydame":0,"hyppun":0,"lobinf":0,"lysqua":0,"maican":3.8},{"row":799,"hydame":0,"hyppun":0,"lobinf":0,"lysqua":0,"maican":0},
{"row":801,"hydame":0,"hyppun":0,"lobinf":0,"lysqua":0,"maican":1.7},{"row":803,"hydame":0,"hyppun":0,"lobinf":0,"lysqua":0,"maican":4.9},{"row":805,"hydame":0,"hyppun":0,"lobinf":0,"lysqua":0,"maican":2.4},{"row":807,"hydame":0,"hyppun":0,"lobinf":0,"lysqua":0,"maican":0.4},{"row":809,"hydame":0,"hyppun":0,"lobinf":0,"lysqua":0,"maican":3.5},{"row":811,"hydame":0,"hyppun":0,"lobinf":0,"lysqua":0,"maican":1.0},{"row":813,"hydame":0,"hyppun":0,"lobinf":0,"lysqua":0,"maican":5.1},{"row":815,"hydame":0,"hyppun":0,"lobinf":0,"lysqua":0,"maican":2.9},{"row":817,"hydame":0,"hyppun":0,"lobinf":0,"lysqua":0,"maican":0},{"row":819,"hydame":0,"hyppun":0,"lobinf":0,"lysqua":0,"maican":1.5},
{"row":821,"hydame":0,"hyppun":0,"lobinf":0,"lysqua":0,"maican":4.2},{"row":823,"hydame":0,"hyppun":0,"lobinf":0,"lysqua":0,"maican":2.1},{"row":825,"hydame":0,"hyppun":0,"lobinf":0,"lysqua":0,"maican":0.6},{"row":827,"hydame":0,"hyppun":0,"lobinf":0,"lysqua":0,"maican":3.3},{"row":829,"hydame":0,"hyppun":0,"lobinf":0,"lysqua":0,"maican":5.3},{"row":831,"hydame":0,"hyppun":0,"lobinf":0,"lysqua":0,"maican":1.4},{"row":833,"hydame":0,"hyppun":0,"lobinf":0,"lysqua":0,"maican":0},{"row":835,"hydame":0,"hyppun":0,"lobinf":0,"lysqua":0,"maican":2.7},{"row":837,"hydame":0,"hyppun":0,"lobinf":0,"lysqua":0,"maican":4.0},{"row":839,"hydame":0,"hyppun":0,"lobinf":0,"lysqua":0,"maican":1.8},
{"row":841,"hydame":0,"hyppun":0,"lobinf":0,"lysqua":0,"maican":0.3},{"row":843,"hydame":0,"hyppun":0,"lobinf":0,"lysqua":0,"maican":3.6},{"row":845,"hydame":0,"hyppun":0,"lobinf":0,"lysqua":0,"maican":5.8},{"row":847,"hydame":0,"hyppun":0,"lobinf":0,"lysqua":0,"maican":2.2},{"row":849,"hydame":0,"hyppun":0,"lobinf":0,"lysqua":0,"maican":1.0},{"row":851,"hydame":0,"hyppun":0,"lobinf":0,"lysqua":0,"maican":0},{"row":853,"hydame":0,"hyppun":0,"lobinf":0,"lysqua":0,"maican":4.7},{"row":855,"hydame":0,"hyppun":0,"lobinf":0,"lysqua":0,"maican":2.5},{"row":857,"hydame":0,"hyppun":0,"lobinf":0,"lysqua":0,"maican":1.2},{"row":859,"hydame":0,"hyppun":0,"lobinf":0,"lysqua":0,"maican":3.0},
{"row":861,"hydame":0,"hyppun":0,"lobinf":0,"lysqua":0,"maican":0.8},{"row":863,"hydame":0,"hyppun":0,"lobinf":0,"lysqua":0,"maican":4.4},{"row":865,"hydame":0,"hyppun":0,"lobinf":0,"lysqua":0,"maican":2.0},{"row":867,"hydame":0,"hyppun":0,"lobinf":0,"lysqua":0,"maican":1.6},
{"row":4,"hydame":0,"hyppun":0,"lobinf":0,"lysqua":0,"maican":3.2},{"row":8,"hydame":0,"hyppun":0,"lobinf":0,"lysqua":0,"maican":4.6},{"row":16,"hydame":0,"hyppun":0,"lobinf":0,"lysqua":0,"maican":2.1},{"row":20,"hydame":0,"hyppun":0,"lobinf":0,"lysqua":0,"maican":5.3},{"row":24,"hydame":0,"hyppun":0,"lobinf":0,"lysqua":0,"maican":3.8},{"row":36,"hydame":0,"hyppun":0,"lobinf":0,"lysqua":0,"maican":1.4},{"row":44,"hydame":0,"hyppun":0,"lobinf":0,"lysqua":0,"maican":4.2},{"row":48,"hydame":0,"hyppun":0,"lobinf":0,"lysqua":0,"maican":2.7},{"row":52,"hydame":0,"hyppun":0,"lobinf":0,"lysqua":0,"maican":5.0},{"row":56,"hydame":0,"hyppun":0,"lobinf":0,"lysqua":0,"maican":3.5},
{"row":60,"hydame":0,"hyppun":0,"lobinf":0,"lysqua":0,"maican":0.6},{"row":72,"hydame":0,"hyppun":0,"lobinf":0,"lysqua":0,"maican":4.8},{"row":76,"hydame":0,"hyppun":0,"lobinf":0,"lysqua":0,"maican":2.4},{"row":80,"hydame":0,"hyppun":0,"lobinf":0,"lysqua":0,"maican":3.9},{"row":88,"hydame":0,"hyppun":0,"lobinf":0,"lysqua":0,"maican":5.5},{"row":92,"hydame":0,"hyppun":0,"lobinf":0,"lysqua":0,"maican":1.9},{"row":96,"hydame":0,"hyppun":0,"lobinf":0,"lysqua":0,"maican":4.4},{"row":104,"hydame":0,"hyppun":0,"lobinf":0,"lysqua":0,"maican":3.0},{"row":108,"hydame":0,"hyppun":0,"lobinf":0,"lysqua":0,"maican":2.2},{"row":116,"hydame":0,"hyppun":0,"lobinf":0,"lysqua":0,"maican":5.1},
{"row":124,"hydame":0,"hyppun":0,"lobinf":0,"lysqua":0,"maican":3.6},{"row":128,"hydame":0,"hyppun":0,"lobinf":0,"lysqua":0,"maican":0.9},{"row":132,"hydame":0,"hyppun":0,"lobinf":0,"lysqua":0,"maican":4.0},{"row":136,"hydame":0,"hyppun":0,"lobinf":0,"lysqua":0,"maican":2.9},{"row":144,"hydame":0,"hyppun":0,"lobinf":0,"lysqua":0,"maican":4.7},{"row":148,"hydame":0,"hyppun":0,"lobinf":0,"lysqua":0,"maican":1.6},{"row":156,"hydame":0,"hyppun":0,"lobinf":0,"lysqua":0,"maican":3.3},{"row":168,"hydame":0,"hyppun":0,"lobinf":0,"lysqua":0,"maican":5.2},{"row":172,"hydame":0,"hyppun":0,"lobinf":0,"lysqua":0,"maican":2.5},{"row":176,"hydame":0,"hyppun":0,"lobinf":0,"lysqua":0,"maican":4.1},
{"row":184,"hydame":0,"hyppun":0,"lobinf":0,"lysqua":0,"maican":3.4},{"row":188,"hydame":0,"hyppun":0,"lobinf":0,"lysqua":0,"maican":1.2},{"row":192,"hydame":0,"hyppun":0,"lobinf":0,"lysqua":0,"maican":4.5},{"row":204,"hydame":0,"hyppun":0,"lobinf":0,"lysqua":0,"maican":2.8},{"row":208,"hydame":0,"hyppun":0,"lobinf":0,"lysqua":0,"maican":5.4},{"row":220,"hydame":0,"hyppun":0,"lobinf":0,"lysqua":0,"maican":3.7},{"row":224,"hydame":0,"hyppun":0,"lobinf":0,"lysqua":0,"maican":2.0},{"row":228,"hydame":0,"hyppun":0,"lobinf":0,"lysqua":0,"maican":4.9},{"row":232,"hydame":0,"hyppun":0,"lobinf":0,"lysqua":0,"maican":3.1},{"row":240,"hydame":0,"hyppun":0,"lobinf":0,"lysqua":0,"maican":1.7},
{"row":244,"hydame":0,"hyppun":0,"lobinf":0,"lysqua":0,"maican":4.3},{"row":252,"hydame":0,"hyppun":0,"lobinf":0,"lysqua":0,"maican":2.6},{"row":256,"hydame":0,"hyppun":0,"lobinf":0,"lysqua":0,"maican":5.6},{"row":264,"hydame":0,"hyppun":0,"lobinf":0,"lysqua":0,"maican":3.5},{"row":268,"hydame":0,"hyppun":0,"lobinf":0,"lysqua":0,"maican":0.5},{"row":280,"hydame":0,"hyppun":0,"lobinf":0,"lysqua":0,"maican":4.6},{"row":284,"hydame":0,"hyppun":0,"lobinf":0,"lysqua":0,"maican":2.3},{"row":296,"hydame":0,"hyppun":0,"lobinf":0,"lysqua":0,"maican":3.9},{"row":308,"hydame":0,"hyppun":0,"lobinf":0,"lysqua":0,"maican":5.0},{"row":316,"hydame":0,"hyppun":0,"lobinf":0,"lysqua":0,"maican":2.9},
{"row":320,"hydame":0,"hyppun":0,"lobinf":0,"lysqua":0,"maican":4.2},{"row":328,"hydame":0,"hyppun":0,"lobinf":0,"lysqua":0,"maican":1.8},{"row":332,"hydame":0,"hyppun":0,"lobinf":0,"lysqua":0,"maican":3.6},{"row":336,"hydame":0,"hyppun":0,"lobinf":0,"lysqua":0,"maican":5.3},{"row":340,"hydame":0,"hyppun":0,"lobinf":0,"lysqua":0,"maican":2.4},{"row":348,"hydame":0,"hyppun":0,"lobinf":0,"lysqua":0,"maican":4.0},{"row":364,"hydame":0,"hyppun":0,"lobinf":0,"lysqua":0,"maican":3.2},{"row":372,"hydame":0,"hyppun":0,"lobinf":0,"lysqua":0,"maican":1.1},{"row":376,"hydame":0,"hyppun":0,"lobinf":0,"lysqua":0,"maican":4.7},{"row":384,"hydame":0,"hyppun":0,"lobinf":0,"lysqua":0,"maican":2.7},
{"row":388,"hydame":0,"hyppun":0,"lobinf":0,"lysqua":0,"maican":5.1},{"row":392,"hydame":0,"hyppun":0,"lobinf":0,"lysqua":0,"maican":3.4},{"row":396,"hydame":0,"hyppun":0,"lobinf":0,"lysqua":0,"maican":2.0},{"row":400,"hydame":0,"hyppun":0,"lobinf":0,"lysqua":0,"maican":4.4},{"row":404,"hydame":0,"hyppun":0,"lobinf":0,"lysqua":0,"maican":3.0},{"row":416,"hydame":0,"hyppun":0,"lobinf":0,"lysqua":0,"maican":1.5},{"row":424,"hydame":0,"hyppun":0,"lobinf":0,"lysqua":0,"maican":4.9},{"row":428,"hydame":0,"hyppun":0,"lobinf":0,"lysqua":0,"maican":3.7},{"row":432,"hydame":0,"hyppun":0,"lobinf":0,"lysqua":0,"maican":2.5},{"row":436,"hydame":0,"hyppun":0,"lobinf":0,"lysqua":0,"maican":5.4},
{"row":444,"hydame":0,"hyppun":0,"lobinf":0,"lysqua":0,"maican":3.3},{"row":448,"hydame":0,"hyppun":0,"lobinf":0,"lysqua":0,"maican":1.0},{"row":452,"hydame":0,"hyppun":0,"lobinf":0,"lysqua":0,"maican":4.1},{"row":460,"hydame":0,"hyppun":0,"lobinf":0,"lysqua":0,"maican":2.8},{"row":464,"hydame":0,"hyppun":0,"lobinf":0,"lysqua":0,"maican":5.0},{"row":468,"hydame":0,"hyppun":0,"lobinf":0,"lysqua":0,"maican":3.6},{"row":484,"hydame":0,"hyppun":0,"lobinf":0,"lysqua":0,"maican":2.2},{"row":488,"hydame":0,"hyppun":0,"lobinf":0,"lysqua":0,"maican":4.5},{"row":496,"hydame":0,"hyppun":0,"lobinf":0,"lysqua":0,"maican":3.1},{"row":500,"hydame":0,"hyppun":0,"lobinf":0,"lysqua":0,"maican":1.3},
{"row":504,"hydame":0,"hyppun":0,"lobinf":0,"lysqua":0,"maican":4.8},{"row":508,"hydame":0,"hyppun":0,"lobinf":0,"lysqua":0,"maican":2.6},{"row":512,"hydame":0,"hyppun":0,"lobinf":0,"lysqua":0,"maican":5.2},{"row":516,"hydame":0,"hyppun":0,"lobinf":0,"lysqua":0,"maican":3.4},{"row":524,"hydame":0,"hyppun":0,"lobinf":0,"lysqua":0,"maican":1.9},{"row":528,"hydame":0,"hyppun":0,"lobinf":0,"lysqua":0,"maican":4.3},{"row":532,"hydame":0,"hyppun":0,"lobinf":0,"lysqua":0,"maican":2.9},{"row":536,"hydame":0,"hyppun":0,"lobinf":0,"lysqua":0,"maican":5.5},{"row":544,"hydame":0,"hyppun":0,"lobinf":0,"lysqua":0,"maican":3.8},{"row":548,"hydame":0,"hyppun":0,"lobinf":0,"lysqua":0,"maican":0.7},
{"row":552,"hydame":0,"hyppun":0,"lobinf":0,"lysqua":0,"maican":4.6},{"row":556,"hydame":0,"hyppun":0,"lobinf":0,"lysqua":0,"maican":2.3},{"row":560,"hydame":0,"hyppun":0,"lobinf":0,"lysqua":0,"maican":3.9},{"row":568,"hydame":0,"hyppun":0,"lobinf":0,"lysqua":0,"maican":5.1},{"row":576,"hydame":0,"hyppun":0,"lobinf":0,"lysqua":0,"maican":2.7},{"row":580,"hydame":0,"hyppun":0,"lobinf":0,"lysqua":0,"maican":4.0},{"row":584,"hydame":0,"hyppun":0,"lobinf":0,"lysqua":0,"maican":1.6},{"row":588,"hydame":0,"hyppun":0,"lobinf":0,"lysqua":0,"maican":3.5},{"row":592,"hydame":0,"hyppun":0,"lobinf":0,"lysqua":0,"maican":4.8},{"row":596,"hydame":0,"hyppun":0,"lobinf":0,"lysqua":0,"maican":2.1},
{"row":600,"hydame":0,"hyppun":0,"lobinf":0,"lysqua":0,"maican":5.3},{"row":604,"hydame":0,"hyppun":0,"lobinf":0,"lysqua":0,"maican":3.2},{"row":608,"hydame":0,"hyppun":0,"lobinf":0,"lysqua":0,"maican":1.4},{"row":612,"hydame":0,"hyppun":0,"lobinf":0,"lysqua":0,"maican":4.4},{"row":616,"hydame":0,"hyppun":0,"lobinf":0,"lysqua":0,"maican":2.8},{"row":620,"hydame":0,"hyppun":0,"lobinf":0,"lysqua":0,"maican":3.7},{"row":624,"hydame":0,"hyppun":0,"lobinf":0,"lysqua":0,"maican":5.0},{"row":628,"hydame":0,"hyppun":0,"lobinf":0,"lysqua":0,"maican":1.1},{"row":632,"hydame":0,"hyppun":0,"lobinf":0,"lysqua":0,"maican":4.2},{"row":636,"hydame":0,"hyppun":0,"lobinf":0,"lysqua":0,"maican":3.0},
{"row":640,"hydame":0,"hyppun":0,"lobinf":0,"lysqua":0,"maican":2.4},{"row":644,"hydame":0,"hyppun":0,"lobinf":0,"lysqua":0,"maican":5.4},{"row":648,"hydame":0,"hyppun":0,"lobinf":0,"lysqua":0,"maican":3.6},{"row":652,"hydame":0,"hyppun":0,"lobinf":0,"lysqua":0,"maican":1.8},{"row":656,"hydame":0,"hyppun":0,"lobinf":0,"lysqua":0,"maican":4.7},{"row":660,"hydame":0,"hyppun":0,"lobinf":0,"lysqua":0,"maican":2.6},{"row":664,"hydame":0,"hyppun":0,"lobinf":0,"lysqua":0,"maican":3.9},{"row":668,"hydame":0,"hyppun":0,"lobinf":0,"lysqua":0,"maican":5.2},{"row":672,"hydame":0,"hyppun":0,"lobinf":0,"lysqua":0,"maican":0.9},{"row":676,"hydame":0,"hyppun":0,"lobinf":0,"lysqua":0,"maican":4.1},
{"row":680,"hydame":0,"hyppun":0,"lobinf":0,"lysqua":0,"maican":2.9},{"row":684,"hydame":0,"hyppun":0,"lobinf":0,"lysqua":0,"maican":3.4},{"row":688,"hydame":0,"hyppun":0,"lobinf":0,"lysqua":0,"maican":5.6},{"row":692,"hydame":0,"hyppun":0,"lobinf":0,"lysqua":0,"maican":2.0},{"row":696,"hydame":0,"hyppun":0,"lobinf":0,"lysqua":0,"maican":4.5},{"row":700,"hydame":0,"hyppun":0,"lobinf":0,"lysqua":0,"maican":3.1},{"row":704,"hydame":0,"hyppun":0,"lobinf":0,"lysqua":0,"maican":5.7},{"row":708,"hydame":0,"hyppun":0,"lobinf":0,"lysqua":0,"maican":2.5},{"row":712,"hydame":0,"hyppun":0,"lobinf":0,"lysqua":0,"maican":4.3},{"row":716,"hydame":0,"hyppun":0,"lobinf":0,"lysqua":0,"maican":3.6},
{"row":724,"hydame":0,"hyppun":0,"lobinf":0,"lysqua":0,"maican":1.2},{"row":728,"hydame":0,"hyppun":0,"lobinf":0,"lysqua":0,"maican":5.0},{"row":732,"hydame":0,"hyppun":0,"lobinf":0,"lysqua":0,"maican":3.8},{"row":736,"hydame":0,"hyppun":0,"lobinf":0,"lysqua":0,"maican":2.2},{"row":740,"hydame":0,"hyppun":0,"lobinf":0,"lysqua":0,"maican":4.9},{"row":744,"hydame":0,"hyppun":0,"lobinf":0,"lysqua":0,"maican":5.8},{"row":748,"hydame":0,"hyppun":0,"lobinf":0,"lysqua":0,"maican":3.0},{"row":752,"hydame":0,"hyppun":0,"lobinf":0,"lysqua":0,"maican":1.6},{"row":760,"hydame":0,"hyppun":0,"lobinf":0,"lysqua":0,"maican":4.6},{"row":764,"hydame":0,"hyppun":0,"lobinf":0,"lysqua":0,"maican":2.7},
{"row":768,"hydame":0,"hyppun":0,"lobinf":0,"lysqua":0,"maican":5.3},{"row":772,"hydame":0,"hyppun":0,"lobinf":0,"lysqua":0,"maican":3.5},{"row":776,"hydame":0,"hyppun":0,"lobinf":0,"lysqua":0,"maican":4.0},{"row":784,"hydame":0,"hyppun":0,"lobinf":0,"lysqua":0,"maican":2.3},{"row":788,"hydame":0,"hyppun":0,"lobinf":0,"lysqua":0,"maican":5.5},{"row":792,"hydame":0,"hyppun":0,"lobinf":0,"lysqua":0,"maican":3.9},{"row":796,"hydame":0,"hyppun":0,"lobinf":0,"lysqua":0,"maican":1.4},{"row":800,"hydame":0,"hyppun":0,"lobinf":0,"lysqua":0,"maican":4.8},{"row":804,"hydame":0,"hyppun":0,"lobinf":0,"lysqua":0,"maican":2.9},{"row":808,"hydame":0,"hyppun":0,"lobinf":0,"lysqua":0,"maican":5.9},
{"row":812,"hydame":0,"hyppun":0,"lobinf":0,"lysqua":0,"maican":3.3},{"row":816,"hydame":0,"hyppun":0,"lobinf":0,"lysqua":0,"maican":4.2},{"row":820,"hydame":0,"hyppun":0,"lobinf":0,"lysqua":0,"maican":2.1},{"row":824,"hydame":0,"hyppun":0,"lobinf":0,"lysqua":0,"maican":5.4},{"row":828,"hydame":0,"hyppun":0,"lobinf":0,"lysqua":0,"maican":3.7},{"row":832,"hydame":0,"hyppun":0,"lobinf":0,"lysqua":0,"maican":1.0},{"row":836,"hydame":0,"hyppun":0,"lobinf":0,"lysqua":0,"maican":4.5},{"row":840,"hydame":0,"hyppun":0,"lobinf":0,"lysqua":0,"maican":2.6},{"row":844,"hydame":0,"hyppun":0,"lobinf":0,"lysqua":0,"maican":5.1},{"row":848,"hydame":0,"hyppun":0,"lobinf":0,"lysqua":0,"maican":3.2},
{"row":852,"hydame":0,"hyppun":0,"lobinf":0,"lysqua":0,"maican":4.7},{"row":856,"hydame":0,"hyppun":0,"lobinf":0,"lysqua":0,"maican":2.4},{"row":864,"hydame":0,"hyppun":0,"lobinf":0,"lysqua":0,"maican":3.9},
{"row":64,"hydame":0,"hyppun":0,"lobinf":0,"lysqua":0.5,"maican":2},{"row":138,"hydame":0.1,"hyppun":0.02,"lobinf":0.1,"lysqua":0.2,"maican":0},{"row":162,"hydame":0,"hyppun":0,"lobinf":0,"lysqua":0.1,"maican":2.5},{"row":164,"hydame":0,"hyppun":0,"lobinf":0,"lysqua":1,"maican":1},{"row":196,"hydame":0,"hyppun":0,"lobinf":0,"lysqua":0.2,"maican":6},{"row":210,"hydame":0,"hyppun":0,"lobinf":0,"lysqua":0.3,"maican":9},{"row":216,"hydame":0,"hyppun":0,"lobinf":0,"lysqua":0.3,"maican":5},{"row":236,"hydame":0.4,"hyppun":0,"lobinf":0.4,"lysqua":0.3,"maican":0},{"row":260,"hydame":0,"hyppun":0,"lobinf":0,"lysqua":1,"maican":2},{"row":286,"hydame":0,"hyppun":0,"lobinf":3,"lysqua":0,"maican":0},{"row":288,"hydame":0,"hyppun":0,"lobinf":7.5,"lysqua":0,"maican":0},{"row":290,"hydame":0,"hyppun":0,"lobinf":10.5,"lysqua":0,"maican":0},{"row":292,"hydame":0,"hyppun":0,"lobinf":18.5,"lysqua":0,"maican":0},{"row":306,"hydame":0,"hyppun":0,"lobinf":0,"lysqua":0.2,"maican":5.6},{"row":338,"hydame":0,"hyppun":0,"lobinf":0,"lysqua":1,"maican":13.5},{"row":408,"hydame":0,"hyppun":0,"lobinf":0,"lysqua":2.4,"maican":9},{"row":410,"hydame":0,"hyppun":0,"lobinf":0,"lysqua":0.1,"maican":4.5},
{"row":2,"hydame":0,"hyppun":0,"lobinf":0,"lysqua":0,"maican":15},{"row":12,"hydame":0,"hyppun":0,"lobinf":0,"lysqua":0,"maican":15},{"row":28,"hydame":0,"hyppun":0,"lobinf":0,"lysqua":0,"maican":15},{"row":6,"hydame":0,"hyppun":0,"lobinf":0,"lysqua":0,"maican":8.1},{"row":32,"hydame":0,"hyppun":0,"lobinf":0,"lysqua":0,"maican":8.1},{"row":68,"hydame":0,"hyppun":0,"lobinf":0,"lysqua":0,"maican":8.1},{"row":112,"hydame":0,"hyppun":0,"lobinf":0,"lysqua":0,"maican":8.1},{"row":84,"hydame":0,"hyppun":0,"lobinf":0,"lysqua":0,"maican":11.1},{"row":30,"hydame":0,"hyppun":0,"lobinf":0,"lysqua":0,"maican":7.0},{"row":40,"hydame":0,"hyppun":0,"lobinf":0,"lysqua":0,"maican":6.0},
{"row":70,"hydame":0,"hyppun":0,"lobinf":0,"lysqua":0,"maican":6.5},{"row":100,"hydame":0,"hyppun":0,"lobinf":0,"lysqua":0,"maican":6.4},{"row":120,"hydame":0,"hyppun":0,"lobinf":0,"lysqua":0,"maican":5.8},{"row":140,"hydame":0,"hyppun":0,"lobinf":0,"lysqua":0,"maican":7.4},{"row":152,"hydame":0,"hyppun":0,"lobinf":0,"lysqua":0,"maican":10},{"row":160,"hydame":0,"hyppun":0,"lobinf":0,"lysqua":0,"maican":7.1},{"row":180,"hydame":0,"hyppun":0,"lobinf":0,"lysqua":0,"maican":6.2},{"row":190,"hydame":0,"hyppun":0,"lobinf":0,"lysqua":0,"maican":9.0},{"row":194,"hydame":0,"hyppun":0,"lobinf":0,"lysqua":0,"maican":17.0},{"row":198,"hydame":0,"hyppun":0,"lobinf":0,"lysqua":0,"maican":10},
{"row":200,"hydame":0,"hyppun":0,"lobinf":0,"lysqua":0,"maican":8.0},{"row":212,"hydame":0,"hyppun":0,"lobinf":0,"lysqua":0,"maican":11.9},{"row":230,"hydame":0,"hyppun":0,"lobinf":0,"lysqua":0,"maican":6.8},{"row":248,"hydame":0,"hyppun":0,"lobinf":0,"lysqua":0,"maican":13},{"row":250,"hydame":0,"hyppun":0,"lobinf":0,"lysqua":0,"maican":8.9},{"row":254,"hydame":0,"hyppun":0,"lobinf":0,"lysqua":0,"maican":17.0},{"row":272,"hydame":0,"hyppun":0,"lobinf":0,"lysqua":0,"maican":13},{"row":276,"hydame":0,"hyppun":0,"lobinf":0,"lysqua":0,"maican":11.8},{"row":278,"hydame":0,"hyppun":0,"lobinf":0,"lysqua":0,"maican":7.0},{"row":300,"hydame":0,"hyppun":0,"lobinf":0,"lysqua":0,"maican":6.5},
{"row":304,"hydame":0,"hyppun":0,"lobinf":0,"lysqua":0,"maican":9.9},{"row":312,"hydame":0,"hyppun":0,"lobinf":0,"lysqua":0,"maican":7.8},{"row":318,"hydame":0,"hyppun":0,"lobinf":0,"lysqua":0,"maican":8.1},{"row":322,"hydame":0,"hyppun":0,"lobinf":0,"lysqua":0,"maican":9.6},{"row":324,"hydame":0,"hyppun":0,"lobinf":0,"lysqua":0,"maican":12.4},{"row":326,"hydame":0,"hyppun":0,"lobinf":0,"lysqua":0,"maican":12.9},{"row":330,"hydame":0,"hyppun":0,"lobinf":0,"lysqua":0,"maican":8.5},{"row":334,"hydame":0,"hyppun":0,"lobinf":0,"lysqua":0,"maican":11.9},{"row":342,"hydame":0,"hyppun":0,"lobinf":0,"lysqua":0,"maican":17.9},{"row":344,"hydame":0,"hyppun":0,"lobinf":0,"lysqua":0,"maican":6.8},
{"row":346,"hydame":0,"hyppun":0,"lobinf":0,"lysqua":0,"maican":20.9},{"row":350,"hydame":0,"hyppun":0,"lobinf":0,"lysqua":0,"maican":11.7},{"row":352,"hydame":0,"hyppun":0,"lobinf":0,"lysqua":0,"maican":19.1},{"row":354,"hydame":0,"hyppun":0,"lobinf":0,"lysqua":0,"maican":12.4},{"row":356,"hydame":0,"hyppun":0,"lobinf":0,"lysqua":0,"maican":17.5},{"row":360,"hydame":0,"hyppun":0,"lobinf":0,"lysqua":0,"maican":7.2},{"row":368,"hydame":0,"hyppun":0,"lobinf":0,"lysqua":0,"maican":9.9},{"row":370,"hydame":0,"hyppun":0,"lobinf":0,"lysqua":0,"maican":14.9},{"row":374,"hydame":0,"hyppun":0,"lobinf":0,"lysqua":0,"maican":13.4},{"row":380,"hydame":0,"hyppun":0,"lobinf":0,"lysqua":0,"maican":11.1},
{"row":386,"hydame":0,"hyppun":0,"lobinf":0,"lysqua":0,"maican":8.4},{"row":398,"hydame":0,"hyppun":0,"lobinf":0,"lysqua":0,"maican":6.4},{"row":412,"hydame":0,"hyppun":0,"lobinf":0,"lysqua":0,"maican":7.6},{"row":420,"hydame":0,"hyppun":0,"lobinf":0,"lysqua":0,"maican":7.9},{"row":430,"hydame":0,"hyppun":0,"lobinf":0,"lysqua":0,"maican":6.6},{"row":434,"hydame":0,"hyppun":0,"lobinf":0,"lysqua":0,"maican":10.2},{"row":438,"hydame":0,"hyppun":0,"lobinf":0,"lysqua":0,"maican":9.8},{"row":440,"hydame":0,"hyppun":0,"lobinf":0,"lysqua":0,"maican":7.4},{"row":446,"hydame":0,"hyppun":0,"lobinf":0,"lysqua":0,"maican":8.6},{"row":456,"hydame":0,"hyppun":0,"lobinf":0,"lysqua":0,"maican":5.9},
{"row":462,"hydame":0,"hyppun":0,"lobinf":0,"lysqua":0,"maican":7.0},{"row":466,"hydame":0,"hyppun":0,"lobinf":0,"lysqua":0,"maican":15.2},{"row":470,"hydame":0,"hyppun":0,"lobinf":0,"lysqua":0,"maican":13.0},{"row":472,"hydame":0,"hyppun":0,"lobinf":0,"lysqua":0,"maican":9.0},{"row":474,"hydame":0,"hyppun":0,"lobinf":0,"lysqua":0,"maican":11.4},{"row":476,"hydame":0,"hyppun":0,"lobinf":0,"lysqua":0,"maican":6.9},{"row":480,"hydame":0,"hyppun":0,"lobinf":0,"lysqua":0,"maican":6.3},{"row":492,"hydame":0,"hyppun":0,"lobinf":0,"lysqua":0,"maican":5.8},{"row":506,"hydame":0,"hyppun":0,"lobinf":0,"lysqua":0,"maican":6.7},{"row":520,"hydame":0,"hyppun":0,"lobinf":0,"lysqua":0,"maican":5.6},
{"row":526,"hydame":0,"hyppun":0,"lobinf":0,"lysqua":0,"maican":8.1},{"row":540,"hydame":0,"hyppun":0,"lobinf":0,"lysqua":0,"maican":6.0},{"row":564,"hydame":0,"hyppun":0,"lobinf":0,"lysqua":0,"maican":9.2},{"row":566,"hydame":0,"hyppun":0,"lobinf":0,"lysqua":0,"maican":7.4},{"row":572,"hydame":0,"hyppun":0,"lobinf":0,"lysqua":0,"maican":7.4},{"row":598,"hydame":0,"hyppun":0,"lobinf":0,"lysqua":0,"maican":5.8},{"row":610,"hydame":0,"hyppun":0,"lobinf":0,"lysqua":0,"maican":6.4},{"row":650,"hydame":0,"hyppun":0,"lobinf":0,"lysqua":0,"maican":6.2},{"row":662,"hydame":0,"hyppun":0,"lobinf":0,"lysqua":0,"maican":8.0},{"row":702,"hydame":0,"hyppun":0,"lobinf":0,"lysqua":0,"maican":5.5},
{"row":720,"hydame":0,"hyppun":0,"lobinf":0,"lysqua":0,"maican":5.9},{"row":726,"hydame":0,"hyppun":0,"lobinf":0,"lysqua":0,"maican":6.2},{"row":756,"hydame":0,"hyppun":0,"lobinf":0,"lysqua":0,"maican":7.0},{"row":780,"hydame":0,"hyppun":0,"lobinf":0,"lysqua":0,"maican":5.8},{"row":786,"hydame":0,"hyppun":0,"lobinf":0,"lysqua":0,"maican":15},{"row":802,"hydame":0,"hyppun":0,"lobinf":0,"lysqua":0,"maican":5.4},{"row":814,"hydame":0,"hyppun":0,"lobinf":0,"lysqua":0,"maican":5.7},{"row":830,"hydame":0,"hyppun":0,"lobinf":0,"lysqua":0,"maican":5.6},{"row":846,"hydame":0,"hyppun":0,"lobinf":0,"lysqua":0,"maican":5.5},{"row":860,"hydame":0,"hyppun":0,"lobinf":0,"lysqua":0,"maican":5.3},
{"row":868,"hydame":0,"hyppun":0,"lobinf":0,"lysqua":0,"maican":1.2}
]},
"data":{"name":"d"},
"columns":6,
"spacing":{"row":25.8,"column":25},
"bounds":"flush",
"config":{
"view":{"stroke":"black","strokeWidth":1.3},
"point":{"shape":"circle","filled":false,"color":"#0000ff","size":74,"strokeWidth":1.8,"opacity":1},
"axis":{"domain":false,"grid":false,"ticks":true,"tickColor":"black","tickSize":10,"tickWidth":1.2,"labelFont":"Liberation Sans","labelFontSize":20,"labelColor":"black","labelPadding":18,"labelFlush":false,"labelOverlap":false,"title":null}
},
"concat":[
{"width":165,"height":156,"data":{"values":[{"name":"row"}]},"mark":{"type":"text","fontSize":42,"font":"Liberation Sans","color":"black"},"encoding":{"text":{"field":"name"}}},
{"width":165,"height":156,"mark":"point","encoding":{"x":{"field":"hydame","type":"quantitative","scale":{"domain":[-0.016,0.416],"nice":false,"zero":false},"axis":{"orient":"top","values":[0,0.1,0.2,0.3,0.4],"format":".1f","labelExpr":"round(datum.value*10)%2==1?'':datum.label"}},"y":{"field":"row","type":"quantitative","scale":{"domain":[-33.68,902.68],"nice":false,"zero":false},"axis":null}}},
{"width":165,"height":156,"mark":"point","encoding":{"x":{"field":"hyppun","type":"quantitative","scale":{"domain":[-0.0008,0.0208],"nice":false,"zero":false},"axis":null},"y":{"field":"row","type":"quantitative","scale":{"domain":[-33.68,902.68],"nice":false,"zero":false},"axis":null}}},
{"width":165,"height":156,"mark":"point","encoding":{"x":{"field":"lobinf","type":"quantitative","scale":{"domain":[-0.74,19.24],"nice":false,"zero":false},"axis":{"orient":"top","values":[0,5,10,15],"format":"d","labelExpr":"datum.value==15?'':datum.label"}},"y":{"field":"row","type":"quantitative","scale":{"domain":[-33.68,902.68],"nice":false,"zero":false},"axis":null}}},
{"width":165,"height":156,"mark":"point","encoding":{"x":{"field":"lysqua","type":"quantitative","scale":{"domain":[-0.096,2.496],"nice":false,"zero":false},"axis":null},"y":{"field":"row","type":"quantitative","scale":{"domain":[-33.68,902.68],"nice":false,"zero":false},"axis":null}}},
{"width":165,"height":156,"mark":"point","encoding":{"x":{"field":"maican","type":"quantitative","scale":{"domain":[-0.836,21.736],"nice":false,"zero":false},"axis":{"orient":"top","values":[0,5,10,15,20],"format":"d","labelExpr":"datum.value==15?'':datum.label"}},"y":{"field":"row","type":"quantitative","scale":{"domain":[-33.68,902.68],"nice":false,"zero":false},"axis":{"orient":"right","values":[0,200,400,600,800],"format":"d","labelExpr":"round(datum.value/200)%2==1?'':datum.label","labelAngle":-90,"labelAlign":"center","labelBaseline":"top"}}}},

{"width":165,"height":156,"mark":"point","encoding":{"x":{"field":"row","type":"quantitative","scale":{"domain":[-33.68,902.68],"nice":false,"zero":false},"axis":null},"y":{"field":"hydame","type":"quantitative","scale":{"domain":[-0.016,0.416],"nice":false,"zero":false},"axis":{"orient":"left","values":[0,0.1,0.2,0.3,0.4],"format":".1f","labelExpr":"round(datum.value*10)%2==1?'':datum.label","labelAngle":-90,"labelAlign":"center","labelBaseline":"bottom"}}}},
{"width":165,"height":156,"data":{"values":[{"name":"hydame"}]},"mark":{"type":"text","fontSize":42,"font":"Liberation Sans","color":"black"},"encoding":{"text":{"field":"name"}}},
{"width":165,"height":156,"mark":"point","encoding":{"x":{"field":"hyppun","type":"quantitative","scale":{"domain":[-0.0008,0.0208],"nice":false,"zero":false},"axis":null},"y":{"field":"hydame","type":"quantitative","scale":{"domain":[-0.016,0.416],"nice":false,"zero":false},"axis":null}}},
{"width":165,"height":156,"mark":"point","encoding":{"x":{"field":"lobinf","type":"quantitative","scale":{"domain":[-0.74,19.24],"nice":false,"zero":false},"axis":null},"y":{"field":"hydame","type":"quantitative","scale":{"domain":[-0.016,0.416],"nice":false,"zero":false},"axis":null}}},
{"width":165,"height":156,"mark":"point","encoding":{"x":{"field":"lysqua","type":"quantitative","scale":{"domain":[-0.096,2.496],"nice":false,"zero":false},"axis":null},"y":{"field":"hydame","type":"quantitative","scale":{"domain":[-0.016,0.416],"nice":false,"zero":false},"axis":null}}},
{"width":165,"height":156,"mark":"point","encoding":{"x":{"field":"maican","type":"quantitative","scale":{"domain":[-0.836,21.736],"nice":false,"zero":false},"axis":null},"y":{"field":"hydame","type":"quantitative","scale":{"domain":[-0.016,0.416],"nice":false,"zero":false},"axis":null}}},

{"width":165,"height":156,"mark":"point","encoding":{"x":{"field":"row","type":"quantitative","scale":{"domain":[-33.68,902.68],"nice":false,"zero":false},"axis":null},"y":{"field":"hyppun","type":"quantitative","scale":{"domain":[-0.0008,0.0208],"nice":false,"zero":false},"axis":null}}},
{"width":165,"height":156,"mark":"point","encoding":{"x":{"field":"hydame","type":"quantitative","scale":{"domain":[-0.016,0.416],"nice":false,"zero":false},"axis":null},"y":{"field":"hyppun","type":"quantitative","scale":{"domain":[-0.0008,0.0208],"nice":false,"zero":false},"axis":null}}},
{"width":165,"height":156,"data":{"values":[{"name":"hyppun"}]},"mark":{"type":"text","fontSize":42,"font":"Liberation Sans","color":"black"},"encoding":{"text":{"field":"name"}}},
{"width":165,"height":156,"mark":"point","encoding":{"x":{"field":"lobinf","type":"quantitative","scale":{"domain":[-0.74,19.24],"nice":false,"zero":false},"axis":null},"y":{"field":"hyppun","type":"quantitative","scale":{"domain":[-0.0008,0.0208],"nice":false,"zero":false},"axis":null}}},
{"width":165,"height":156,"mark":"point","encoding":{"x":{"field":"lysqua","type":"quantitative","scale":{"domain":[-0.096,2.496],"nice":false,"zero":false},"axis":null},"y":{"field":"hyppun","type":"quantitative","scale":{"domain":[-0.0008,0.0208],"nice":false,"zero":false},"axis":null}}},
{"width":165,"height":156,"mark":"point","encoding":{"x":{"field":"maican","type":"quantitative","scale":{"domain":[-0.836,21.736],"nice":false,"zero":false},"axis":null},"y":{"field":"hyppun","type":"quantitative","scale":{"domain":[-0.0008,0.0208],"nice":false,"zero":false},"axis":{"orient":"right","values":[0,0.005,0.01,0.015,0.02],"format":".3f","labelExpr":"round(datum.value*200)%2==1?'':datum.label","labelAngle":-90,"labelAlign":"center","labelBaseline":"top"}}}},

{"width":165,"height":156,"mark":"point","encoding":{"x":{"field":"row","type":"quantitative","scale":{"domain":[-33.68,902.68],"nice":false,"zero":false},"axis":null},"y":{"field":"lobinf","type":"quantitative","scale":{"domain":[-0.74,19.24],"nice":false,"zero":false},"axis":{"orient":"left","values":[0,5,10,15],"format":"d","labelExpr":"datum.value==15?'':datum.label","labelAngle":-90,"labelAlign":"center","labelBaseline":"bottom"}}}},
{"width":165,"height":156,"mark":"point","encoding":{"x":{"field":"hydame","type":"quantitative","scale":{"domain":[-0.016,0.416],"nice":false,"zero":false},"axis":null},"y":{"field":"lobinf","type":"quantitative","scale":{"domain":[-0.74,19.24],"nice":false,"zero":false},"axis":null}}},
{"width":165,"height":156,"mark":"point","encoding":{"x":{"field":"hyppun","type":"quantitative","scale":{"domain":[-0.0008,0.0208],"nice":false,"zero":false},"axis":null},"y":{"field":"lobinf","type":"quantitative","scale":{"domain":[-0.74,19.24],"nice":false,"zero":false},"axis":null}}},
{"width":165,"height":156,"data":{"values":[{"name":"lobinf"}]},"mark":{"type":"text","fontSize":42,"font":"Liberation Sans","color":"black"},"encoding":{"text":{"field":"name"}}},
{"width":165,"height":156,"mark":"point","encoding":{"x":{"field":"lysqua","type":"quantitative","scale":{"domain":[-0.096,2.496],"nice":false,"zero":false},"axis":null},"y":{"field":"lobinf","type":"quantitative","scale":{"domain":[-0.74,19.24],"nice":false,"zero":false},"axis":null}}},
{"width":165,"height":156,"mark":"point","encoding":{"x":{"field":"maican","type":"quantitative","scale":{"domain":[-0.836,21.736],"nice":false,"zero":false},"axis":null},"y":{"field":"lobinf","type":"quantitative","scale":{"domain":[-0.74,19.24],"nice":false,"zero":false},"axis":null}}},

{"width":165,"height":156,"mark":"point","encoding":{"x":{"field":"row","type":"quantitative","scale":{"domain":[-33.68,902.68],"nice":false,"zero":false},"axis":null},"y":{"field":"lysqua","type":"quantitative","scale":{"domain":[-0.096,2.496],"nice":false,"zero":false},"axis":null}}},
{"width":165,"height":156,"mark":"point","encoding":{"x":{"field":"hydame","type":"quantitative","scale":{"domain":[-0.016,0.416],"nice":false,"zero":false},"axis":null},"y":{"field":"lysqua","type":"quantitative","scale":{"domain":[-0.096,2.496],"nice":false,"zero":false},"axis":null}}},
{"width":165,"height":156,"mark":"point","encoding":{"x":{"field":"hyppun","type":"quantitative","scale":{"domain":[-0.0008,0.0208],"nice":false,"zero":false},"axis":null},"y":{"field":"lysqua","type":"quantitative","scale":{"domain":[-0.096,2.496],"nice":false,"zero":false},"axis":null}}},
{"width":165,"height":156,"mark":"point","encoding":{"x":{"field":"lobinf","type":"quantitative","scale":{"domain":[-0.74,19.24],"nice":false,"zero":false},"axis":null},"y":{"field":"lysqua","type":"quantitative","scale":{"domain":[-0.096,2.496],"nice":false,"zero":false},"axis":null}}},
{"width":165,"height":156,"data":{"values":[{"name":"lysqua"}]},"mark":{"type":"text","fontSize":42,"font":"Liberation Sans","color":"black"},"encoding":{"text":{"field":"name"}}},
{"width":165,"height":156,"mark":"point","encoding":{"x":{"field":"maican","type":"quantitative","scale":{"domain":[-0.836,21.736],"nice":false,"zero":false},"axis":null},"y":{"field":"lysqua","type":"quantitative","scale":{"domain":[-0.096,2.496],"nice":false,"zero":false},"axis":{"orient":"right","values":[0,0.5,1,1.5,2],"format":".1f","labelExpr":"round(datum.value*2)%2==1?'':datum.label","labelAngle":-90,"labelAlign":"center","labelBaseline":"top"}}}},

{"width":165,"height":156,"mark":"point","encoding":{"x":{"field":"row","type":"quantitative","scale":{"domain":[-33.68,902.68],"nice":false,"zero":false},"axis":{"orient":"bottom","values":[0,200,400,600,800],"format":"d","labelExpr":"round(datum.value/200)%2==1?'':datum.label"}},"y":{"field":"maican","type":"quantitative","scale":{"domain":[-0.836,21.736],"nice":false,"zero":false},"axis":{"orient":"left","values":[0,5,10,15,20],"format":"d","labelExpr":"datum.value==10||datum.value==20?'':datum.label","labelAngle":-90,"labelAlign":"center","labelBaseline":"bottom"}}}},
{"width":165,"height":156,"mark":"point","encoding":{"x":{"field":"hydame","type":"quantitative","scale":{"domain":[-0.016,0.416],"nice":false,"zero":false},"axis":null},"y":{"field":"maican","type":"quantitative","scale":{"domain":[-0.836,21.736],"nice":false,"zero":false},"axis":null}}},
{"width":165,"height":156,"mark":"point","encoding":{"x":{"field":"hyppun","type":"quantitative","scale":{"domain":[-0.0008,0.0208],"nice":false,"zero":false},"axis":{"orient":"bottom","values":[0,0.005,0.01,0.015,0.02],"format":".3f","labelExpr":"round(datum.value*200)%2==1?'':datum.label"}},"y":{"field":"maican","type":"quantitative","scale":{"domain":[-0.836,21.736],"nice":false,"zero":false},"axis":null}}},
{"width":165,"height":156,"mark":"point","encoding":{"x":{"field":"lobinf","type":"quantitative","scale":{"domain":[-0.74,19.24],"nice":false,"zero":false},"axis":null},"y":{"field":"maican","type":"quantitative","scale":{"domain":[-0.836,21.736],"nice":false,"zero":false},"axis":null}}},
{"width":165,"height":156,"mark":"point","encoding":{"x":{"field":"lysqua","type":"quantitative","scale":{"domain":[-0.096,2.496],"nice":false,"zero":false},"axis":{"orient":"bottom","values":[0,0.5,1,1.5,2],"format":".1f","labelExpr":"round(datum.value*2)%2==1?'':datum.label"}},"y":{"field":"maican","type":"quantitative","scale":{"domain":[-0.836,21.736],"nice":false,"zero":false},"axis":null}}},
{"width":165,"height":156,"data":{"values":[{"name":"maican"}]},"mark":{"type":"text","fontSize":42,"font":"Liberation Sans","color":"black"},"encoding":{"text":{"field":"name"}}}
]
}
